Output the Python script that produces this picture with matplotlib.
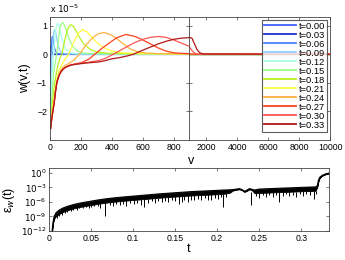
import numpy as np
import matplotlib
matplotlib.use("Agg")
import matplotlib.pyplot as plt

plt.rcParams["font.family"] = ["Liberation Sans", "DejaVu Sans"]
plt.rcParams["mathtext.fontset"] = "dejavusans"

# ---------- DATA: w(v,t) in units of 1e-5 ----------
t_labels = ["t=0.00", "t=0.03", "t=0.06", "t=0.09", "t=0.12", "t=0.15",
            "t=0.18", "t=0.21", "t=0.24", "t=0.27", "t=0.30", "t=0.33"]
colors = ["#4060ff", "#1a2fd0", "#4a80ff", "#8fd0ff", "#a8ffe8", "#9dff8a",
          "#b8f020", "#ffff40", "#ffb040", "#ff4020", "#ff5555", "#b01818"]

v00 = [0, 900]
w00 = [0.0, 0.0]
v03 = [0, 1, 2, 3, 5, 7, 10, 15, 25, 900]
w03 = [-2.0, -1.0, -0.3, 0.1, 0.3, 0.28, 0.15, 0.05, 0.0, 0.0]
v06 = [0, 1, 2, 4, 6, 9, 12, 15, 19, 24, 30, 40, 60, 900]
w06 = [-2.4, -1.9, -1.3, -0.5, 0.0, 0.35, 0.55, 0.62, 0.55, 0.38, 0.2, 0.06, 0.01, 0.0]
v09 = [0, 2, 4, 7, 10, 14, 19, 24, 30, 37, 45, 55, 70, 100, 900]
w09 = [-2.5, -1.9, -1.3, -0.7, -0.3, 0.1, 0.5, 0.75, 0.85, 0.75, 0.5, 0.25, 0.08, 0.01, 0.0]
v12 = [0, 2, 5, 9, 14, 20, 25, 32, 40, 50, 60, 72, 85, 100, 130, 180, 900]
w12 = [-2.6, -2.3, -1.7, -1.1, -0.6, -0.2, 0.15, 0.6, 0.95, 1.08, 0.95, 0.65, 0.38, 0.18,
       0.05, 0.01, 0.0]
v15 = [0, 3, 7, 12, 18, 25, 33, 40, 46, 55, 65, 80, 95, 110, 130, 150, 180, 220, 300, 900]
w15 = [-2.65, -2.5, -2.0, -1.5, -1.0, -0.6, -0.3, -0.1, 0.1, 0.55, 0.95, 1.12, 1.0, 0.75,
       0.45, 0.25, 0.1, 0.04, 0.02, 0.01]
v18 = [0, 4, 10, 18, 26, 35, 45, 55, 65, 77, 90, 105, 120, 135, 150, 170, 195, 220, 260,
       300, 360, 450, 900]
w18 = [-2.6, -2.6, -2.1, -1.6, -1.2, -0.85, -0.55, -0.3, -0.12, 0.0, 0.35, 0.7, 0.95, 1.03,
       0.98, 0.8, 0.55, 0.35, 0.17, 0.08, 0.04, 0.02, 0.01]
v21 = [0, 4, 10, 18, 26, 35, 45, 60, 80, 100, 120, 140, 160, 185, 210, 240, 270, 300, 340,
       394, 450, 500, 600, 900]
w21 = [-2.6, -2.55, -2.2, -1.8, -1.5, -1.15, -0.85, -0.55, -0.33, -0.15, 0.0, 0.25, 0.5,
       0.75, 0.86, 0.78, 0.6, 0.42, 0.25, 0.12, 0.06, 0.04, 0.02, 0.01]
v24 = [0, 4, 10, 18, 26, 35, 45, 58, 70, 85, 103, 130, 160, 190, 230, 270, 310, 350, 394,
       430, 470, 520, 570, 620, 700, 900]
w24 = [-2.6, -2.6, -2.3, -2.0, -1.7, -1.3, -0.95, -0.7, -0.55, -0.45, -0.38, -0.3, -0.18,
       0.0, 0.3, 0.55, 0.71, 0.76, 0.68, 0.55, 0.38, 0.18, 0.08, 0.04, 0.02, 0.01]
v27 = [0, 4, 10, 18, 26, 35, 45, 58, 70, 85, 103, 130, 160, 200, 250, 290, 330, 380, 430,
       490, 550, 600, 650, 700, 750, 800, 850, 900]
w27 = [-2.55, -2.6, -2.3, -2.0, -1.72, -1.3, -0.97, -0.75, -0.62, -0.52, -0.45, -0.38,
       -0.34, -0.3, -0.18, 0.0, 0.18, 0.38, 0.57, 0.69, 0.62, 0.5, 0.36, 0.22, 0.11, 0.05,
       0.03, 0.02]
v30 = [0, 4, 10, 18, 26, 35, 45, 58, 70, 85, 103, 130, 155, 200, 250, 316, 360, 410, 450,
       500, 550, 600, 650, 700, 750, 800, 850, 900]
w30 = [-2.55, -2.6, -2.3, -2.0, -1.72, -1.3, -0.97, -0.75, -0.62, -0.52, -0.45, -0.39,
       -0.36, -0.32, -0.28, -0.22, -0.14, 0.0, 0.12, 0.27, 0.41, 0.52, 0.59, 0.62, 0.59,
       0.5, 0.39, 0.28]
v33 = [0, 4, 10, 18, 26, 35, 45, 58, 70, 85, 103, 130, 155, 200, 250, 316, 360, 400, 450,
       500, 540, 600, 650, 700, 750, 800, 850, 900]
w33 = [-2.5, -2.6, -2.3, -2.0, -1.76, -1.35, -0.97, -0.75, -0.62, -0.52, -0.45, -0.39,
       -0.36, -0.33, -0.3, -0.27, -0.22, -0.16, -0.12, -0.06, 0.0, 0.14, 0.25, 0.36, 0.45,
       0.52, 0.56, 0.58]

# right part of the v axis (900..10000)
v_far = [900, 1000, 1100, 1200, 1300, 1400, 1500, 1600, 1800, 10000]
w_far27 = [0.02, 0.01, 0.0, 0.0, 0.0, 0.0, 0.0, 0.0, 0.0, 0.0]
w_far30 = [0.28, 0.2, 0.12, 0.06, 0.03, 0.01, 0.0, 0.0, 0.0, 0.0]
w_far33 = [0.58, 0.58, 0.55, 0.42, 0.3, 0.18, 0.1, 0.05, 0.01, 0.0]

# ---------- DATA: error eps_w(t), log10 values ----------
env_t = [0.0035, 0.0045, 0.006, 0.0085, 0.012, 0.016, 0.022, 0.03, 0.038, 0.048, 0.058,
         0.068, 0.078, 0.09, 0.1, 0.117, 0.13, 0.15, 0.171, 0.19, 0.207, 0.215, 0.2187,
         0.2226, 0.2266, 0.2295, 0.2325, 0.2355, 0.2384, 0.2414, 0.2444, 0.25, 0.27, 0.286,
         0.3, 0.317, 0.319, 0.3205, 0.322, 0.325, 0.329, 0.333]
env_hi = [-12.3, -10.5, -9.0, -8.2, -7.7, -7.3, -6.9, -6.5, -6.2, -5.9, -5.6, -5.35, -5.15,
          -4.95, -4.8, -4.55, -4.35, -4.1, -3.85, -3.7, -3.55, -3.5, -3.45, -3.35, -3.25,
          -3.45, -3.8, -3.55, -3.25, -3.4, -3.55, -3.35, -3.2, -3.1, -3.0, -2.9, -2.7, -1.5,
          -0.9, -0.5, -0.2, -0.05]
env_lo = [-12.4, -10.7, -9.5, -8.9, -8.5, -8.1, -7.7, -7.3, -7.0, -6.7, -6.4, -6.15, -5.95,
          -5.75, -5.6, -5.35, -5.15, -4.9, -4.65, -4.5, -4.35, -4.1, -3.65, -3.5, -3.4,
          -3.6, -3.95, -3.7, -3.4, -3.6, -4.2, -4.15, -4.0, -3.9, -3.8, -3.7, -3.0, -1.7,
          -1.0, -0.6, -0.3, -0.1]

spike_t = [0.006, 0.0095, 0.012, 0.015, 0.019, 0.022, 0.026, 0.029, 0.033, 0.036, 0.040,
           0.044, 0.047, 0.050, 0.054, 0.058, 0.061, 0.0672, 0.072, 0.076, 0.080, 0.084,
           0.088, 0.092, 0.096, 0.101, 0.105, 0.109, 0.1135, 0.118, 0.122, 0.126, 0.130,
           0.134, 0.138, 0.142, 0.146, 0.150, 0.155, 0.158, 0.161, 0.165, 0.169, 0.173,
           0.177, 0.181, 0.185, 0.189, 0.193, 0.197, 0.201, 0.204, 0.207, 0.211, 0.2405,
           0.246, 0.250, 0.254, 0.258, 0.262, 0.266, 0.270, 0.274, 0.278, 0.282, 0.286,
           0.290, 0.294, 0.298, 0.302, 0.306, 0.310, 0.3155, 0.318]
spike_lo = [-9.8, -9.3, -8.9, -8.6, -8.2, -8.0, -7.8, -7.6, -7.7, -7.3, -7.3, -7.0, -7.2,
            -7.1, -6.9, -6.8, -7.2, -8.8, -6.6, -6.9, -6.5, -6.7, -6.4, -6.8, -6.3, -6.5,
            -6.2, -6.6, -7.1, -6.2, -5.9, -6.3, -5.8, -6.1, -5.8, -6.0, -5.7, -5.9, -6.4,
            -6.0, -5.6, -6.1, -5.5, -5.7, -5.3, -5.6, -5.2, -5.5, -5.6, -5.1, -5.3, -4.9,
            -7.1, -5.0, -6.6, -4.8, -5.2, -4.6, -5.0, -4.5, -4.9, -4.6, -6.0, -4.7, -4.4,
            -4.8, -4.5, -4.9, -4.4, -4.7, -4.3, -4.6, -5.3, -4.4]
spike_top = [-9.2, -8.7, -8.4, -8.0, -7.8, -7.6, -7.4, -7.2, -7.1, -6.9, -6.9, -6.6, -6.6,
             -6.6, -6.4, -6.3, -6.3, -6.1, -6.0, -5.9, -5.8, -5.8, -5.7, -5.7, -5.6, -5.55,
             -5.5, -5.4, -5.35, -5.3, -5.25, -5.2, -5.1, -5.05, -5.0, -4.95, -4.9, -4.85,
             -4.8, -4.75, -4.7, -4.65, -4.6, -4.6, -4.55, -4.5, -4.5, -4.45, -4.4, -4.4,
             -4.35, -4.3, -4.3, -4.2, -3.9, -4.1, -4.1, -4.05, -4.0, -4.0, -4.0, -3.95,
             -3.95, -3.9, -3.9, -3.9, -3.85, -3.85, -3.8, -3.8, -3.75, -3.75, -3.7, -3.7]

curves = [(v00, w00), (v03, w03), (v06, w06), (v09, w09), (v12, w12), (v15, w15),
          (v18, w18), (v21, w21), (v24, w24), (v27, w27), (v30, w30), (v33, w33)]
far = {9: w_far27, 10: w_far30, 11: w_far33}

# ---------- FIGURE ----------
fig = plt.figure(figsize=(3.45, 2.6), dpi=100)
ax_l = fig.add_axes([0.145, 0.4615, 0.403, 0.473])
ax_r = fig.add_axes([0.548, 0.4615, 0.409, 0.473])
ax_b = fig.add_axes([0.142, 0.1115, 0.8116, 0.2423])

spine_c = "#444444"
for ax in (ax_l, ax_r, ax_b):
    ax.tick_params(direction="in", top=True, right=True, length=2.5, width=0.5,
                   labelsize=6.3, pad=2, colors=spine_c, labelcolor="black")
    for s in ax.spines.values():
        s.set_linewidth(0.6)
        s.set_color(spine_c)

for i, (v, w) in enumerate(curves):
    ax_l.plot(v, w, color=colors[i], lw=0.9, label=t_labels[i])
    ax_r.plot(v_far, far.get(i, [0.0] * len(v_far)), color=colors[i], lw=0.9,
              label=t_labels[i])

ax_l.set_xlim(0, 900)
ax_r.set_xlim(900, 10000)
for ax in (ax_l, ax_r):
    ax.set_ylim(-3, 1.3)
    ax.set_yticks([-2, -1, 0, 1])
ax_l.set_xticks([0, 200, 400, 600, 800])
ax_r.set_xticks([2000, 4000, 6000, 8000, 10000])
ax_r.tick_params(labelleft=False)
ax_l.set_yticklabels(["\u22122", "\u22121", "0", "1"])

ax_l.set_ylabel("w(v,t)", fontsize=9)
ax_l.yaxis.set_label_coords(-0.14, 0.5)
ax_l.text(0.0, 1.015, r"x $10^{-5}$", transform=ax_l.transAxes, fontsize=6.5,
          ha="left", va="bottom")
fig.text(0.553, 0.382, "v", fontsize=9, ha="center", va="center")

leg = ax_r.legend(loc="upper right", fontsize=6.7, frameon=True, fancybox=False,
                  handlelength=3.4, handletextpad=0.35, labelspacing=0.0,
                  borderpad=0.2, borderaxespad=0.3)
leg.get_frame().set_edgecolor("#333333")
leg.get_frame().set_linewidth(0.8)
for line in leg.get_lines():
    line.set_linewidth(1.3)

# ---------- BOTTOM: error ----------
ax_b.fill_between(env_t, 10.0 ** np.array(env_lo), 10.0 ** np.array(env_hi),
                  color="black", lw=0.6)
ax_b.plot(env_t, 10.0 ** np.array(env_hi), color="black", lw=0.8)
ax_b.vlines(spike_t, 10.0 ** np.array(spike_lo), 10.0 ** np.array(spike_top),
            color="black", lw=0.7)
ax_b.set_yscale("log")
ax_b.set_ylim(1e-12, 1e1)
ax_b.set_xlim(0, 0.333)
ax_b.set_yticks([1e0, 1e-3, 1e-6, 1e-9, 1e-12])
ax_b.set_yticklabels([r"$10^{0}$", r"$10^{-3}$", r"$10^{-6}$", r"$10^{-9}$", r"$10^{-12}$"])
ax_b.minorticks_off()
ax_b.set_xticks([0, 0.05, 0.1, 0.15, 0.2, 0.25, 0.3])
ax_b.set_xticklabels(["0", "0.05", "0.1", "0.15", "0.2", "0.25", "0.3"])
ax_b.set_xlabel("t", fontsize=9, labelpad=0)
ax_b.set_ylabel("\u03b5$_w$(t)", fontsize=9)
ax_b.yaxis.set_label_coords(-0.115, 0.5)

fig.savefig("out.png", dpi=100)
